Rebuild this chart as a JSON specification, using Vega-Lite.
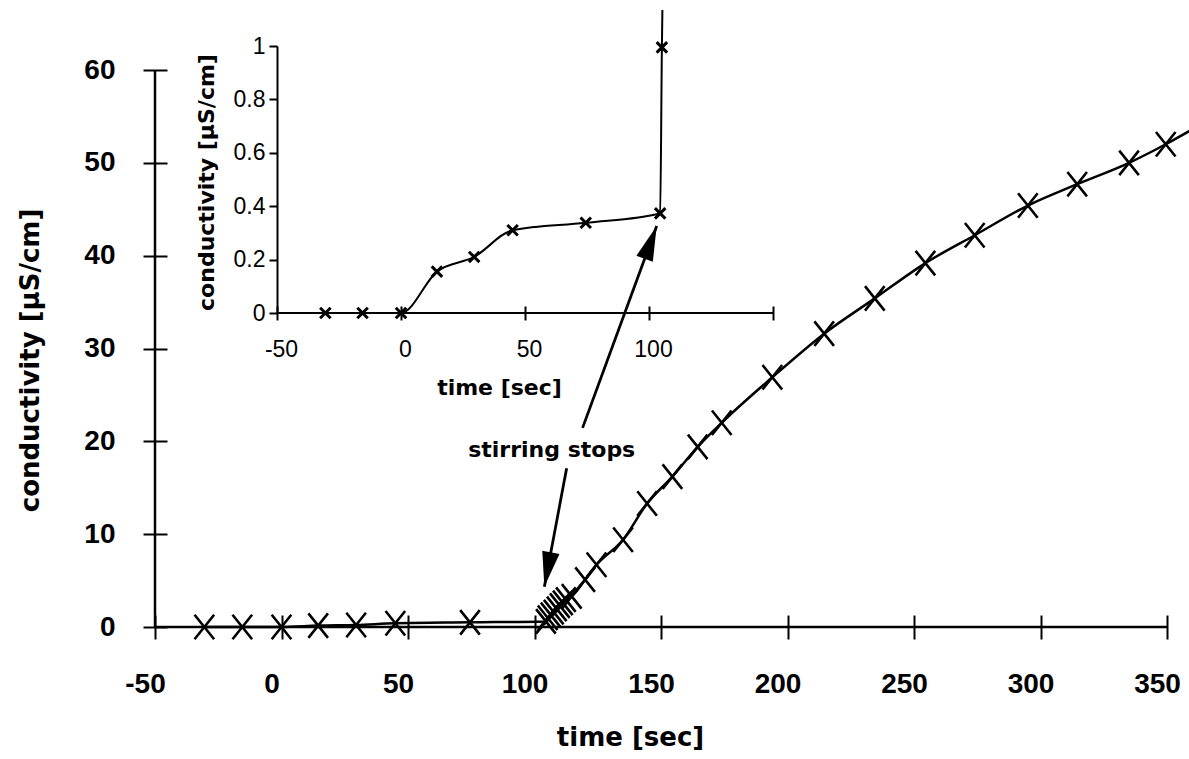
{
  "$schema": "https://vega.github.io/schema/vega-lite/v6.json",
  "width": 1012,
  "height": 557,
  "autosize": {"type": "none"},
  "padding": {"left": 155, "top": 70, "right": 22, "bottom": 132},
  "background": "white",
  "config": {"view": {"stroke": null}, "font": "DejaVu Sans", "axis": {"grid": false}},
  "datasets": {
    "main": [
      {"t": -30.5, "c": 0, "marker": "yes"},
      {"t": -15.5, "c": 0, "marker": "yes"},
      {"t": 0, "c": 0, "marker": "yes"},
      {"t": 14.5, "c": 0.15, "marker": "yes"},
      {"t": 29.5, "c": 0.22, "marker": "yes"},
      {"t": 45, "c": 0.4, "marker": "yes"},
      {"t": 74.5, "c": 0.5, "marker": "yes"},
      {"t": 104.5, "c": 0.6, "marker": "yes"},
      {"t": 105.2, "c": 1.0, "marker": "yes"},
      {"t": 106.4, "c": 1.3, "marker": "yes"},
      {"t": 107.6, "c": 1.6, "marker": "yes"},
      {"t": 108.8, "c": 1.95, "marker": "yes"},
      {"t": 110, "c": 2.3, "marker": "yes"},
      {"t": 111.2, "c": 2.6, "marker": "yes"},
      {"t": 112.4, "c": 2.95, "marker": "yes"},
      {"t": 114.7, "c": 3.3, "marker": "yes"},
      {"t": 120, "c": 5.1, "marker": "yes"},
      {"t": 124.5, "c": 6.7, "marker": "yes"},
      {"t": 135, "c": 9.4, "marker": "yes"},
      {"t": 144.5, "c": 13.3, "marker": "yes"},
      {"t": 154.5, "c": 16.2, "marker": "yes"},
      {"t": 164.5, "c": 19.4, "marker": "yes"},
      {"t": 174, "c": 22.0, "marker": "yes"},
      {"t": 194, "c": 26.9, "marker": "yes"},
      {"t": 214.5, "c": 31.6, "marker": "yes"},
      {"t": 234.5, "c": 35.4, "marker": "yes"},
      {"t": 254.5, "c": 39.2, "marker": "yes"},
      {"t": 274, "c": 42.2, "marker": "yes"},
      {"t": 295, "c": 45.4, "marker": "yes"},
      {"t": 314.5, "c": 47.7, "marker": "yes"},
      {"t": 335, "c": 50.0, "marker": "yes"},
      {"t": 349.5, "c": 52.0, "marker": "yes"},
      {"t": 360, "c": 53.6, "marker": "no"}
    ],
    "inset": [
      {"t": -30.5, "c": 0, "marker": "yes"},
      {"t": -15.5, "c": 0, "marker": "yes"},
      {"t": 0, "c": 0, "marker": "yes"},
      {"t": 14.5, "c": 0.155, "marker": "yes"},
      {"t": 29.5, "c": 0.21, "marker": "yes"},
      {"t": 45, "c": 0.31, "marker": "yes"},
      {"t": 74.5, "c": 0.338, "marker": "yes"},
      {"t": 104.5, "c": 0.373, "marker": "yes"},
      {"t": 105.2, "c": 0.995, "marker": "yes"},
      {"t": 105.4, "c": 1.135, "marker": "no"}
    ],
    "arrows": [
      {"name": "to inset", "t0": 119, "c0": 21.45, "t1": 148.3, "c1": 43.2},
      {"name": "to main", "t0": 112.7, "c0": 17.1, "t1": 103.9, "c1": 4.34}
    ],
    "notes": [
      {"t": 106.8, "c": 18.3, "text": "stirring stops"}
    ],
    "frame": [{"one": 1}]
  },
  "layer": [
    {
      "layer": [
        {
          "data": {"name": "main"},
          "mark": {"type": "line", "interpolate": "monotone", "color": "black", "strokeWidth": 2.5},
          "encoding": {
            "x": {
              "field": "t", "type": "quantitative",
              "scale": {"domain": [-50, 350], "nice": false, "zero": false},
              "axis": {
                "orient": "bottom", "values": [-50, 0, 50, 100, 150, 200, 250, 300, 350],
                "labelExpr": "'' + datum.value",
                "domain": false, "tickSize": 24, "tickWidth": 2, "tickColor": "black", "offset": -12,
                "labelFont": "Liberation Sans", "labelFontWeight": "bold", "labelFontSize": 28, "labelColor": "black",
                "labelPadding": 31, "labelFlush": false, "labelOverlap": false, "labelBound": false, "labelOffset": -10,
                "title": "time [sec]", "titleFont": "DejaVu Sans", "titleFontSize": 26, "titleFontWeight": "bold",
                "titleColor": "black", "titleBaseline": "alphabetic", "titleAlign": "center", "titleX": 475, "titleY": 130
              }
            },
            "y": {
              "field": "c", "type": "quantitative",
              "scale": {"domain": [0, 60], "nice": false, "zero": false},
              "axis": {
                "orient": "left", "values": [0, 10, 20, 30, 40, 50, 60],
                "domain": false, "tickSize": 24, "tickWidth": 2, "tickColor": "black", "offset": -12,
                "labelFont": "Liberation Sans", "labelFontWeight": "bold", "labelFontSize": 28, "labelColor": "black",
                "labelPadding": 28, "labelOverlap": false, "labelBound": false, "labelFlush": false,
                "title": "conductivity [µS/cm]", "titleFont": "DejaVu Sans", "titleFontSize": 26, "titleFontWeight": "bold",
                "titleColor": "black", "titleBaseline": "alphabetic", "titleAlign": "center", "titleAngle": 270,
                "titleX": -129, "titleY": 290
              }
            }
          }
        },
        {
          "data": {"name": "main"},
          "transform": [{"filter": "datum.marker == 'yes'"}],
          "mark": {"type": "point", "shape": "M-0.8,-1L0.8,1M-0.8,1L0.8,-1", "size": 600, "filled": false, "stroke": "black", "strokeWidth": 2.6, "opacity": 1},
          "encoding": {
            "x": {"field": "t", "type": "quantitative"},
            "y": {"field": "c", "type": "quantitative"}
          }
        },
        {
          "data": {"name": "frame"},
          "mark": {"type": "rule", "color": "black", "strokeWidth": 2.5},
          "encoding": {
            "x": {"datum": -50, "type": "quantitative"},
            "x2": {"datum": 350},
            "y": {"datum": 0, "type": "quantitative"}
          }
        },
        {
          "data": {"name": "frame"},
          "mark": {"type": "rule", "color": "black", "strokeWidth": 2.5},
          "encoding": {
            "x": {"datum": -50, "type": "quantitative"},
            "y": {"datum": 0, "type": "quantitative"},
            "y2": {"datum": 60}
          }
        },
        {
          "data": {"name": "arrows"},
          "mark": {"type": "rule", "color": "black", "strokeWidth": 2.8},
          "encoding": {
            "x": {"field": "t0", "type": "quantitative"},
            "y": {"field": "c0", "type": "quantitative"},
            "x2": {"field": "t1"},
            "y2": {"field": "c1"}
          }
        },
        {
          "data": {"name": "arrows"},
          "transform": [{"filter": "datum.name == 'to inset'"}],
          "mark": {"type": "point", "shape": "M0,0L0.5,2L-0.5,2Z", "size": 1225, "filled": true, "color": "black", "opacity": 1, "angle": 20.2},
          "encoding": {
            "x": {"field": "t1", "type": "quantitative"},
            "y": {"field": "c1", "type": "quantitative"}
          }
        },
        {
          "data": {"name": "arrows"},
          "transform": [{"filter": "datum.name == 'to main'"}],
          "mark": {"type": "point", "shape": "M0,0L0.5,2L-0.5,2Z", "size": 1225, "filled": true, "color": "black", "opacity": 1, "angle": 190.7},
          "encoding": {
            "x": {"field": "t1", "type": "quantitative"},
            "y": {"field": "c1", "type": "quantitative"}
          }
        },
        {
          "data": {"name": "notes"},
          "mark": {"type": "text", "font": "DejaVu Sans", "fontWeight": "bold", "fontSize": 22, "align": "center", "baseline": "alphabetic", "color": "black"},
          "encoding": {
            "x": {"field": "t", "type": "quantitative"},
            "y": {"field": "c", "type": "quantitative"},
            "text": {"field": "text", "type": "nominal"}
          }
        }
      ]
    },
    {
      "layer": [
        {
          "data": {"name": "inset"},
          "mark": {"type": "line", "interpolate": "monotone", "color": "black", "strokeWidth": 2},
          "encoding": {
            "x": {
              "field": "t", "type": "quantitative",
              "scale": {"domain": [-50, 150], "range": [122, 618], "nice": false, "zero": false},
              "axis": {
                "orient": "bottom", "values": [-50, 0, 50, 100, 150],
                "labelExpr": "datum.value == 150 ? '' : '' + datum.value",
                "domain": false, "tickSize": 14, "tickWidth": 2, "tickColor": "black", "offset": -321,
                "labelFont": "Liberation Sans", "labelFontWeight": "normal", "labelFontSize": 23, "labelColor": "black",
                "labelPadding": 18, "labelFlush": false, "labelOverlap": false, "labelBound": false, "labelOffset": 4,
                "title": "time [sec]", "titleFont": "DejaVu Sans", "titleFontSize": 22, "titleFontWeight": "bold",
                "titleColor": "black", "titleBaseline": "alphabetic", "titleAlign": "center", "titleX": 344, "titleY": 88
              }
            },
            "y": {
              "field": "c", "type": "quantitative",
              "scale": {"domain": [0, 1], "range": [243, -24], "nice": false, "zero": false},
              "axis": {
                "orient": "left", "values": [0, 0.2, 0.4, 0.6, 0.8, 1], "format": "~g",
                "domain": true, "domainColor": "black", "domainWidth": 2, "tickSize": 8, "tickWidth": 2, "tickColor": "black", "offset": -122,
                "labelFont": "Liberation Sans", "labelFontWeight": "normal", "labelFontSize": 23, "labelColor": "black",
                "labelPadding": 4, "labelOverlap": false, "labelBound": false, "labelFlush": false,
                "title": "conductivity [µS/cm]", "titleFont": "DejaVu Sans", "titleFontSize": 22, "titleFontWeight": "bold",
                "titleColor": "black", "titleBaseline": "alphabetic", "titleAlign": "center", "titleAngle": 270,
                "titleX": -64, "titleY": 112
              }
            }
          }
        },
        {
          "data": {"name": "inset"},
          "transform": [{"filter": "datum.marker == 'yes'"}],
          "mark": {"type": "point", "shape": "M-1,-1L1,1M-1,1L1,-1", "size": 110, "filled": false, "stroke": "black", "strokeWidth": 3, "opacity": 1},
          "encoding": {
            "x": {"field": "t", "type": "quantitative"},
            "y": {"field": "c", "type": "quantitative"}
          }
        },
        {
          "data": {"name": "frame"},
          "mark": {"type": "rule", "color": "black", "strokeWidth": 2},
          "encoding": {
            "x": {"datum": -50, "type": "quantitative"},
            "x2": {"datum": 150},
            "y": {"datum": 0, "type": "quantitative"}
          }
        }
      ]
    }
  ],
  "resolve": {"scale": {"x": "independent", "y": "independent"}, "axis": {"x": "independent", "y": "independent"}}
}
